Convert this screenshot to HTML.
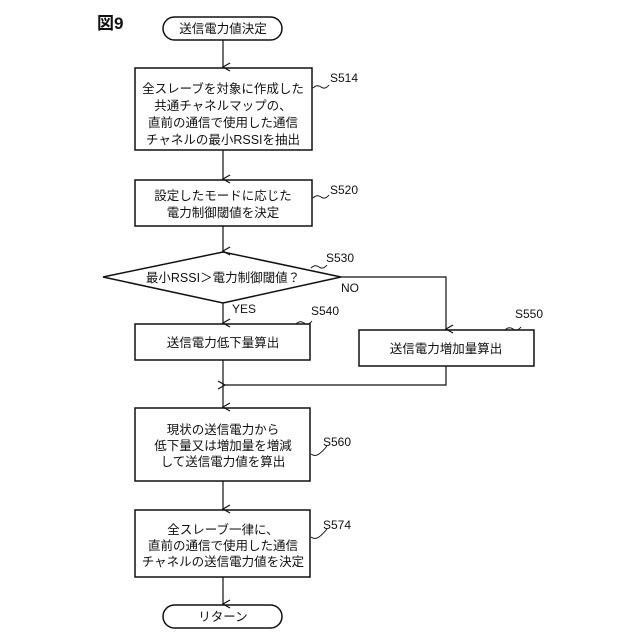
<!DOCTYPE html>
<html><head><meta charset="utf-8"><style>
html,body{margin:0;padding:0;background:#fff;}
svg{display:block;}
text{font-family:"Liberation Sans","Noto Sans CJK JP",sans-serif;fill:#111;}
.t{font-size:12.5px;text-anchor:middle;}
.l{font-size:12px;}
</style></head><body>
<svg width="640" height="640" viewBox="0 0 640 640" xmlns="http://www.w3.org/2000/svg">
<defs><marker id="a" markerWidth="10" markerHeight="10" refX="5" refY="8" orient="auto" markerUnits="userSpaceOnUse"><path d="M1,1 L5,8 L9,1" fill="none" stroke="#111" stroke-width="1.2"/></marker>
<marker id="b" markerWidth="10" markerHeight="10" refX="1" refY="5" orient="auto" markerUnits="userSpaceOnUse"><path d="M8,1 L1,5 L8,9" fill="none" stroke="#111" stroke-width="1.2"/></marker></defs>
<g stroke="#111" stroke-width="1.5" fill="none">
<rect x="163" y="17" width="119" height="23" rx="11.5"/>
<rect x="135" y="68" width="177" height="82"/>
<rect x="135" y="180" width="177" height="46"/>
<polygon points="103,277 223,252 341,277 223,303"/>
<rect x="135" y="324" width="175" height="36"/>
<rect x="359" y="330" width="175" height="36"/>
<rect x="135" y="408" width="175" height="73"/>
<rect x="135" y="510" width="175" height="67"/>
<rect x="163" y="605" width="119" height="23" rx="11.5"/>
</g>
<g stroke="#111" stroke-width="1.2" fill="none">
<line x1="223" y1="40" x2="223" y2="67" marker-end="url(#a)"/>
<line x1="223" y1="150" x2="223" y2="179" marker-end="url(#a)"/>
<line x1="223" y1="226" x2="223" y2="251" marker-end="url(#a)"/>
<line x1="223" y1="303" x2="223" y2="323" marker-end="url(#a)"/>
<polyline points="341,277 446,277 446,329" marker-end="url(#a)"/>
<polyline points="446,366 446,385 225,385" marker-end="url(#b)"/>
<line x1="223" y1="360" x2="223" y2="407" marker-end="url(#a)"/>
<line x1="223" y1="481" x2="223" y2="509" marker-end="url(#a)"/>
<line x1="223" y1="577" x2="223" y2="604" marker-end="url(#a)"/>
<path d="M313,88 q4,-4 8,-1 q4,3 8,-2" stroke-width="1"/>
<path d="M313,198 q4,-4 8,-1 q4,3 8,-2" stroke-width="1"/>
<path d="M311,268 q4,-4 8,-1 q4,3 8,-2" stroke-width="1"/>
<path d="M296,324 q4,-4 8,-1 q4,3 8,-2" stroke-width="1"/>
<path d="M505,330 q4,-4 8,-1 q4,3 8,-2" stroke-width="1"/>
<path d="M311,454 q4,3 8,0 q4,-3 8,-8" stroke-width="1"/>
<path d="M311,537 q4,3 8,0 q4,-3 8,-8" stroke-width="1"/>
</g>
<text x="97" y="29" style="font-size:17px;font-weight:bold">図9</text>
<text class="t" x="223" y="33">送信電力値決定</text>
<text class="t" x="223" y="93">全スレーブを対象に作成した</text>
<text class="t" x="223" y="110">共通チャネルマップの、</text>
<text class="t" x="223" y="127">直前の通信で使用した通信</text>
<text class="t" x="223" y="144">チャネルの最小RSSIを抽出</text>
<text class="t" x="223" y="200">設定したモードに応じた</text>
<text class="t" x="223" y="217">電力制御閾値を決定</text>
<text class="t" x="223" y="282">最小RSSI＞電力制御閾値？</text>
<text class="t" x="223" y="347">送信電力低下量算出</text>
<text class="t" x="446" y="353">送信電力増加量算出</text>
<text class="t" x="223" y="434">現状の送信電力から</text>
<text class="t" x="223" y="450">低下量又は増加量を増減</text>
<text class="t" x="223" y="466">して送信電力値を算出</text>
<text class="t" x="223" y="534">全スレーブ一律に、</text>
<text class="t" x="223" y="550">直前の通信で使用した通信</text>
<text class="t" x="223" y="566">チャネルの送信電力値を決定</text>
<text class="t" x="223" y="621">リターン</text>
<text class="l" x="330" y="82">S514</text>
<text class="l" x="330" y="194">S520</text>
<text class="l" x="326" y="262">S530</text>
<text class="l" x="341" y="292">NO</text>
<text class="l" x="232" y="313">YES</text>
<text class="l" x="311" y="315">S540</text>
<text class="l" x="515" y="318">S550</text>
<text class="l" x="323" y="446">S560</text>
<text class="l" x="323" y="529">S574</text>
</svg>
</body></html>
